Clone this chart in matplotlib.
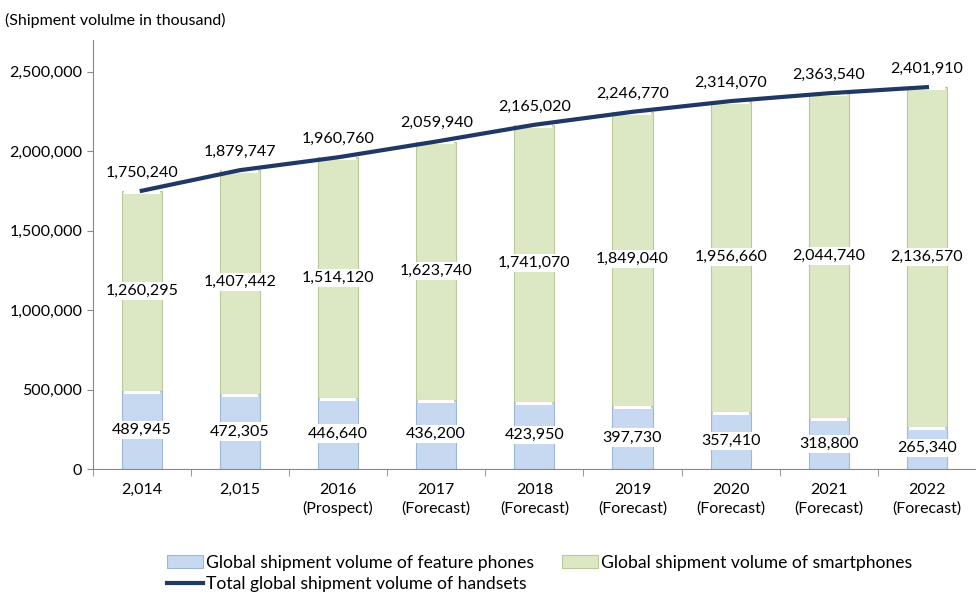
import matplotlib
matplotlib.use("Agg")
import matplotlib.pyplot as plt
from matplotlib.ticker import FuncFormatter

categories = ["2,014", "2,015", "2016\n(Prospect)", "2017\n(Forecast)", "2018\n(Forecast)",
              "2019\n(Forecast)", "2020\n(Forecast)", "2021\n(Forecast)", "2022\n(Forecast)"]
feature = [489945, 472305, 446640, 436200, 423950, 397730, 357410, 318800, 265340]
smart = [1260295, 1407442, 1514120, 1623740, 1741070, 1849040, 1956660, 2044740, 2136570]
total = [1750240, 1879747, 1960760, 2059940, 2165020, 2246770, 2314070, 2363540, 2401910]

plt.rcParams['font.family'] = ['Lato', 'DejaVu Sans']

fig = plt.figure(figsize=(9.76, 5.93), dpi=100)
ax = fig.add_axes([0.095, 0.209, 0.905, 0.724])

x = list(range(len(categories)))
w = 0.41
fcol = "#c6d9f0"
scol = "#dce8c4"
b1 = ax.bar(x, feature, w, color=fcol, edgecolor="#9fb7d6", linewidth=0.8,
            label="Global shipment volume of feature phones", zorder=2)
b2 = ax.bar(x, smart, w, bottom=feature, color=scol, edgecolor="#b9c99a", linewidth=0.8,
            label="Global shipment volume of smartphones", zorder=2)
# white highlight on top of each segment
for xi, f, s in zip(x, feature, smart):
    ax.bar(xi, 18000, w * 0.9, bottom=f - 18000, color="white", linewidth=0, zorder=3)
    ax.bar(xi, 18000, w * 0.9, bottom=f + s - 18000, color="white", linewidth=0, zorder=3)

ln, = ax.plot(x, total, color="#1f3864", linewidth=3, label="Total global shipment volume of handsets", zorder=4)

fs = 11.5
for xi, f, s, t in zip(x, feature, smart, total):
    ax.text(xi, f / 2, f"{f:,}", ha="center", va="center", fontsize=fs, zorder=5,
            bbox=dict(facecolor="white", edgecolor="none", pad=1.5))
    ax.text(xi, f + s / 2, f"{s:,}", ha="center", va="center", fontsize=fs, zorder=5,
            bbox=dict(facecolor="white", edgecolor="none", pad=1.5))
    ax.text(xi, t + 70000, f"{t:,}", ha="center", va="bottom", fontsize=fs, zorder=5)

ax.set_xlim(-0.5, len(categories) - 0.5)
ax.set_ylim(0, 2700000)
ax.set_yticks([0, 500000, 1000000, 1500000, 2000000, 2500000])
ax.yaxis.set_major_formatter(FuncFormatter(lambda v, p: f"{int(v):,}"))
ax.set_xticks(x)
ax.set_xticklabels(categories, fontsize=fs, linespacing=1.35)
ax.tick_params(axis="y", labelsize=fs, length=4, color="#888888")
ax.tick_params(axis="x", length=0, pad=10)
# category boundary ticks
ax.set_xticks([i - 0.5 for i in range(len(categories) + 1)], minor=True)
ax.tick_params(axis="x", which="minor", length=5, color="#888888")
for sp in ["top", "right"]:
    ax.spines[sp].set_visible(False)
for sp in ["left", "bottom"]:
    ax.spines[sp].set_color("#888888")

fig.text(0.005, 0.965, "(Shipment volulme in thousand)", fontsize=fs, ha="left", va="center")

fig.legend(handles=[b1, ln, b2], labels=[b1.get_label(), ln.get_label(), b2.get_label()],
           ncol=2, loc="lower left", bbox_to_anchor=(0.171, 0.002), frameon=False,
           borderpad=0, borderaxespad=0,
           fontsize=12.6, handlelength=2.06, handletextpad=0.17, columnspacing=1.6, labelspacing=0.3)

fig.savefig("out.png", dpi=100)
